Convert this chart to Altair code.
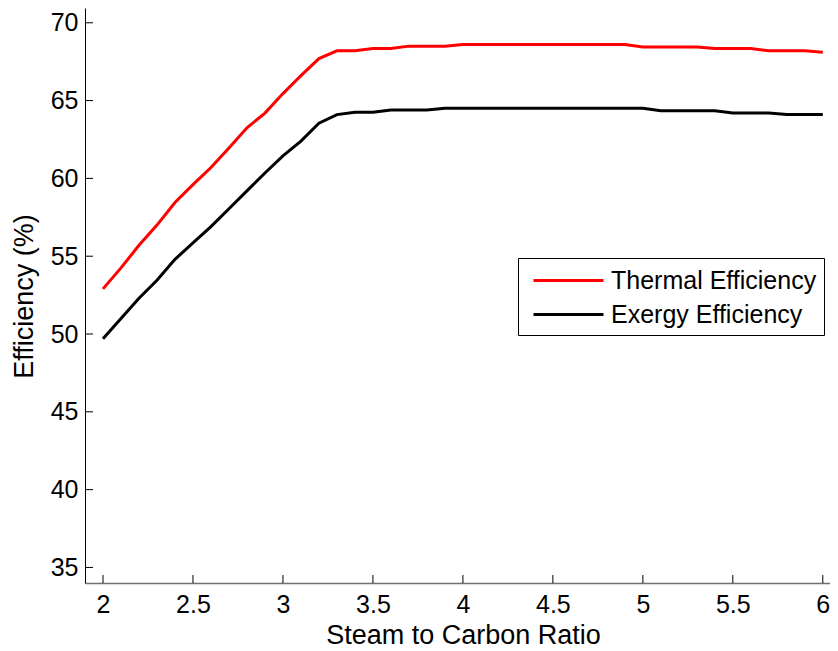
import altair as alt
import pandas as pd

ratio = [2.0, 2.1, 2.2, 2.3, 2.4, 2.5, 2.6, 2.7, 2.8, 2.9,
         3.0, 3.1, 3.2, 3.3, 3.4, 3.5, 3.6, 3.7, 3.8, 3.9,
         4.0, 4.1, 4.2, 4.3, 4.4, 4.5, 4.6, 4.7, 4.8, 4.9,
         5.0, 5.1, 5.2, 5.3, 5.4, 5.5, 5.6, 5.7, 5.8, 5.9, 6.0]

thermal = [52.9, 54.25, 55.7, 57.0, 58.45, 59.6, 60.7, 61.95, 63.25, 64.2,
           65.45, 66.6, 67.7, 68.2, 68.2, 68.35, 68.35, 68.5, 68.5, 68.5,
           68.6, 68.6, 68.6, 68.6, 68.6, 68.6, 68.6, 68.6, 68.6, 68.6,
           68.45, 68.45, 68.45, 68.45, 68.35, 68.35, 68.35, 68.2, 68.2, 68.2, 68.1]

exergy = [49.7, 51.0, 52.3, 53.45, 54.8, 55.85, 56.9, 58.05, 59.2, 60.35,
          61.45, 62.4, 63.55, 64.1, 64.25, 64.25, 64.4, 64.4, 64.4, 64.5,
          64.5, 64.5, 64.5, 64.5, 64.5, 64.5, 64.5, 64.5, 64.5, 64.5,
          64.5, 64.35, 64.35, 64.35, 64.35, 64.2, 64.2, 64.2, 64.1, 64.1, 64.1]

series_names = ["Thermal Efficiency", "Exergy Efficiency"]
series_colors = ["#FF0000", "#000000"]

x_ticks = [2, 2.5, 3, 3.5, 4, 4.5, 5, 5.5, 6]
y_ticks = [35, 40, 45, 50, 55, 60, 65, 70]

x_title = "Steam to Carbon Ratio"
y_title = "Efficiency (%)"

FONT = "Liberation Sans"
W, H = 745, 575

rows = []
for name, vals in zip(series_names, [thermal, exergy]):
    for xv, yv in zip(ratio, vals):
        rows.append({"ratio": xv, "eff": yv, "series": name})
df = pd.DataFrame(rows)

xscale = alt.Scale(domain=[1.9, 6.04], nice=False, zero=False)
yscale = alt.Scale(domain=[34, 70.95], nice=False, zero=False)

xaxis = alt.Axis(values=x_ticks, format="~g", title=x_title,
                 ticks=False, tickSize=0, labelPadding=9,
                 domainColor="#707070", domainWidth=1.5,
                 titleX=378, titleY=60, titleBaseline="alphabetic",
                 titleAlign="center")
yaxis = alt.Axis(values=y_ticks, format="d", title=y_title,
                 ticks=False, tickSize=0, labelPadding=7,
                 domainColor="#000000", domainWidth=1,
                 titleAngle=270, titleX=-53, titleY=288,
                 titleBaseline="alphabetic", titleAlign="center")

lines = alt.Chart(df).mark_line(strokeWidth=3).encode(
    x=alt.X("ratio:Q", scale=xscale, axis=xaxis),
    y=alt.Y("eff:Q", scale=yscale, axis=yaxis),
    color=alt.Color("series:N",
                    scale=alt.Scale(domain=series_names, range=series_colors),
                    legend=alt.Legend(orient="none", legendX=433, legendY=250,
                                      title=None, symbolType="M-0.5,0H4.5",
                                      symbolSize=784, symbolStrokeWidth=3,
                                      labelFontSize=25, labelFont=FONT,
                                      labelColor="#000000", labelOffset=55,
                                      labelLimit=0,
                                      rowPadding=5, padding=7,
                                      strokeColor="#000000", fillColor="#FFFFFF",
                                      cornerRadius=0)),
)

xt = alt.Chart(pd.DataFrame({"ratio": x_ticks})).mark_rule(color="#000000", strokeWidth=1).encode(
    x=alt.X("ratio:Q", scale=xscale, axis=xaxis),
    y=alt.value(H),
    y2=alt.value(H - 8),
)

yt = alt.Chart(pd.DataFrame({"eff": y_ticks})).mark_rule(color="#000000", strokeWidth=1).encode(
    y=alt.Y("eff:Q", scale=yscale, axis=yaxis),
    x=alt.value(0),
    x2=alt.value(8),
)

chart = alt.layer(lines, xt, yt).properties(
    width=W, height=H,
    autosize=alt.AutoSizeParams(type="none"),
    padding={"left": 77, "top": 0, "right": 0, "bottom": 68},
).configure_view(stroke=None).configure_axis(
    grid=False,
    labelFont=FONT, labelFontSize=25, labelColor="#000000",
    titleFont=FONT, titleFontSize=27, titleColor="#000000", titleFontWeight="normal",
)

chart.save("out.html", embed_options={"renderer": "svg", "actions": False})
